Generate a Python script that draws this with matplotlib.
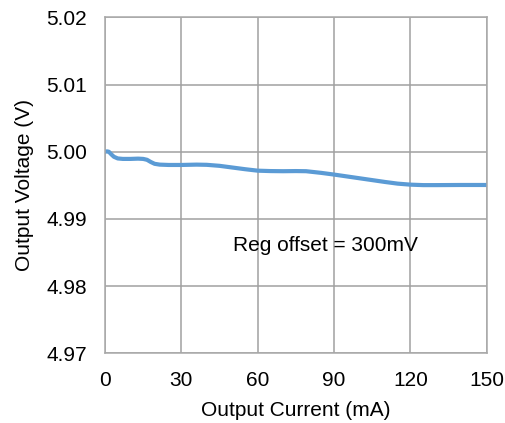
import matplotlib
matplotlib.use('Agg')
import matplotlib.pyplot as plt

# values
current_ma = [0, 0.8, 1.5, 2.5, 3.5, 5, 7, 10, 13, 15, 16.5, 18, 19.5, 21.5, 25, 30,
              36, 40, 45, 50, 55, 60, 65, 70, 75, 79, 85, 90, 100, 110, 115, 120,
              125, 130, 140, 150]
voltage_v = [5.0000, 5.00005, 5.0000, 4.9996, 4.99925, 4.9990, 4.99893, 4.99893, 4.99897,
             4.99893, 4.9988, 4.99847, 4.9982, 4.99808, 4.99803, 4.99803,
             4.99808, 4.99805, 4.9979, 4.99765, 4.9974, 4.99718, 4.99712, 4.9971,
             4.99712, 4.9971, 4.99685, 4.9966, 4.99605, 4.9955, 4.99525, 4.9951,
             4.99503, 4.99503, 4.99505, 4.99505]
x_ticks = [0, 30, 60, 90, 120, 150]
y_ticks = [4.97, 4.98, 4.99, 5.00, 5.01, 5.02]
note = 'Reg offset = 300mV'

plt.rcParams['font.family'] = ['Liberation Sans', 'DejaVu Sans']

fig = plt.figure(figsize=(5.06, 4.23), dpi=100)
ax = fig.add_axes([0.2075, 0.1648, 0.7544, 0.7942])

ax.plot(current_ma, voltage_v, color='#5b9bd5', linewidth=3.0, solid_capstyle='round',
        solid_joinstyle='round')

ax.set_xlim(0, 150)
ax.set_ylim(4.97, 5.02)
ax.set_xticks(x_ticks)
ax.set_yticks(y_ticks)
ax.set_yticklabels([f'{v:.2f}' for v in y_ticks])
ax.tick_params(length=0, labelsize=15, pad=13)
ax.grid(True, color='#a0a0a0', linewidth=1.1)
ax.set_axisbelow(True)
for side in ax.spines:
    ax.spines[side].set_color('#a8a8a8')
    ax.spines[side].set_linewidth(1.1)

ax.set_xlabel('Output Current (mA)', fontsize=15, labelpad=8)
ax.set_ylabel('Output Voltage (V)', fontsize=15, labelpad=9)
ax.text(86.8, 4.9861, note, fontsize=15, ha='center', va='center')

fig.savefig('out.png', dpi=100)
